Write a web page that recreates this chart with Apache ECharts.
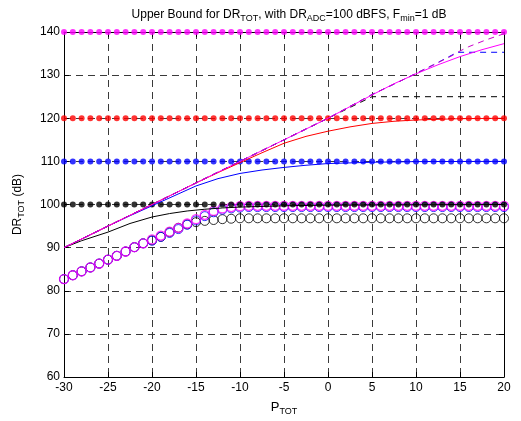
<!DOCTYPE html>
<html><head><meta charset="utf-8">
<script src="https://cdn.jsdelivr.net/npm/echarts@6/dist/echarts.min.js"></script>
<style>html,body{margin:0;padding:0;background:#fff}#c{width:521px;height:421px}</style>
</head><body><div id="c"></div>
<script>
// P_TOT sample grid for markers
const pTot = [-30,-29,-28,-27,-26,-25,-24,-23,-22,-21,-20,-19,-18,-17,-16,-15,-14,-13,-12,-11,-10,-9,-8,-7,-6,-5,-4,-3,-2,-1,0,1,2,3,4,5,6,7,8,9,10,11,12,13,14,15,16,17,18,19,20];
// constant dotted bounds
const levelMagenta = 140, levelRed = 120, levelBlue = 110, levelBlack = 100;
// circle series (one value per pTot)
const circMagenta = [82.7,83.6,84.5,85.4,86.3,87.2,88.1,89.1,90.1,91.0,91.9,92.8,93.7,94.6,95.6,96.6,97.6,98.5,99.1,99.4,99.6,99.7,99.7,99.7,99.7,99.7,99.7,99.7,99.7,99.7,99.7,99.7,99.7,99.7,99.7,99.7,99.7,99.7,99.7,99.7,99.7,99.7,99.7,99.7,99.7,99.7,99.7,99.7,99.7,99.7,99.7];
const circBlue = [82.7,83.6,84.5,85.4,86.3,87.2,88.1,89.1,90.1,91.0,91.6,92.5,93.4,94.3,95.3,96.3,97.3,98.2,98.8,99.1,99.3,99.4,99.4,99.4,99.4,99.4,99.4,99.4,99.4,99.4,99.4,99.4,99.4,99.4,99.4,99.4,99.4,99.4,99.4,99.4,99.4,99.4,99.4,99.4,99.4,99.4,99.4,99.4,99.4,99.4,99.4];
const circBlack = [82.7,83.6,84.5,85.4,86.3,87.2,88.1,89.1,90.1,91.0,91.7,92.5,93.6,94.6,95.4,95.9,96.2,96.4,96.6,96.7,96.8,96.8,96.8,96.8,96.8,96.8,96.8,96.8,96.8,96.8,96.8,96.8,96.8,96.8,96.8,96.8,96.8,96.8,96.8,96.8,96.8,96.8,96.8,96.8,96.8,96.8,96.8,96.8,96.8,96.8,96.8];
// solid curves [P_TOT, DR]
const curveMagenta = [[-30,90],[-27.5,92.5],[-25,95],[-22.5,97.5],[-20,100],[-17.5,102.5],[-15,105],[-12.5,107.5],[-10,110],[-7.5,112.5],[-5,115],[-2.5,117.5],[0,120],[2.5,122.7],[5,125.4],[7.5,128],[10,130.3],[12.5,132.4],[15,134.3],[17.5,135.9],[20,137.3]];
const curveRed = [[-30,90],[-25,95],[-20,100],[-15,105],[-12.5,107.4],[-10,109.7],[-7.5,112],[-5,114.2],[-2.5,115.8],[0,117],[2.5,118],[5,118.8],[7.5,119.3],[10,119.6],[15,119.9],[20,120]];
const curveBlue = [[-30,90],[-25,95],[-22.5,97.4],[-20,99.7],[-17.5,102],[-15,104.3],[-12.5,106],[-10,107.2],[-7.5,108],[-5,108.6],[-2.5,109.1],[0,109.5],[5,109.8],[10,109.95],[20,110]];
const curveBlack = [[-30,90],[-28,91.6],[-25,93.6],[-22.5,95.6],[-20,97.1],[-18,97.9],[-16,98.5],[-14,98.9],[-12,99.2],[-10,99.4],[-5,99.7],[0,99.85],[20,100]];
// dashed curves
const dashMagenta = [[-30,90],[-20,100],[-10,110],[0,120],[5,125.5],[8,128.4],[10,130.4],[12,132.4],[14,134.4],[15,135.6],[16,136.6],[18,138.2],[20,139.6]];
const dashBlue = [[-30,90],[-20,100],[-10,110],[0,120],[5,125.5],[8,128.4],[10,130.4],[12,132.4],[14.7,135.3],[20,135.3]];
const dashBlack = [[-30,90],[-20,100],[-10,110],[0,120],[5,125],[20,125]];
const xTicks = [-30,-25,-20,-15,-10,-5,0,5,10,15,20];
const yTicks = [60,70,80,90,100,110,120,130,140];

const FONT = 'Liberation Sans, Arial, sans-serif';
const pair = (vals) => pTot.map((x, i) => [x, vals[i]]);
const flat = (v) => pTot.map(x => [x, v]);

const chart = echarts.init(document.getElementById('c'), null, {renderer: 'canvas'});
const gridLine = {show: true, lineStyle: {color: '#3a3a3a', type: [7, 5], width: 1}};
const dotSeries = (v, c) => ({type: 'scatter', data: flat(v), symbol: 'circle', symbolSize: 6, itemStyle: {color: c}, z: 5, silent: true});
const circSeries = (vals, c, w) => ({type: 'scatter', data: pair(vals), symbol: 'circle', symbolSize: 9, itemStyle: {color: 'rgba(0,0,0,0)', borderColor: c, borderWidth: w}, z: 4, silent: true});
const lineSeries = (d, c, dash, z) => ({type: 'line', data: d, showSymbol: false, lineStyle: {color: c, width: 1, type: dash ? [6, 5] : 'solid'}, z: z, silent: true});

chart.setOption({
  animation: false,
  backgroundColor: '#fff',
  title: {
    text: 'Upper Bound for DR{s|TOT}, with DR{s|ADC}=100 dBFS, F{s|min}=1 dB',
    left: 284, top: 3, textAlign: 'center',
    textStyle: {fontFamily: FONT, fontSize: 12, fontWeight: 'normal', color: '#000', lineHeight: 14,
      rich: {s: {fontFamily: FONT, fontSize: 9, color: '#000', padding: [7, 0, 0, 0], lineHeight: 14}}}
  },
  grid: {left: 64, right: 17, top: 32, bottom: 44},
  xAxis: [{
    type: 'value', min: -30, max: 20, interval: 5,
    name: 'P{s|TOT}', nameLocation: 'middle', nameGap: 22,
    nameTextStyle: {fontFamily: FONT, fontSize: 13, color: '#000', rich: {s: {fontFamily: FONT, fontSize: 9, color: '#000', padding: [8, 0, 0, 0]}}},
    axisLine: {show: true, onZero: false, lineStyle: {color: '#000', width: 1}},
    axisTick: {show: true, inside: true, length: 5, lineStyle: {color: '#000'}},
    axisLabel: {color: '#000', fontFamily: FONT, fontSize: 12, margin: 5},
    splitLine: gridLine
  }, {
    type: 'value', min: -30, max: 20, interval: 5, position: 'top',
    axisLine: {show: true, onZero: false, lineStyle: {color: '#000', width: 1}},
    axisTick: {show: true, inside: true, length: 5, lineStyle: {color: '#000'}},
    axisLabel: {show: false}, splitLine: {show: false}
  }],
  yAxis: [{
    type: 'value', min: 60, max: 140, interval: 10,
    name: 'DR{s|TOT} (dB)', nameLocation: 'middle', nameGap: 38, nameRotate: 90,
    nameTextStyle: {fontFamily: FONT, fontSize: 12, color: '#000', rich: {s: {fontFamily: FONT, fontSize: 9, color: '#000', padding: [7, 0, 0, 0]}}},
    axisLine: {show: true, onZero: false, lineStyle: {color: '#000', width: 1}},
    axisTick: {show: true, inside: true, length: 5, lineStyle: {color: '#000'}},
    axisLabel: {color: '#000', fontFamily: FONT, fontSize: 12, margin: 4},
    splitLine: gridLine
  }, {
    type: 'value', min: 60, max: 140, interval: 10, position: 'right',
    axisLine: {show: true, onZero: false, lineStyle: {color: '#000', width: 1}},
    axisTick: {show: true, inside: true, length: 5, lineStyle: {color: '#000'}},
    axisLabel: {show: false}, splitLine: {show: false}
  }],
  series: [
    circSeries(circBlack, '#000', 1),
    circSeries(circBlue, '#0000ff', 1),
    circSeries(circMagenta, '#ff00ff', 1.3),
    dotSeries(levelBlack, '#000'),
    dotSeries(levelBlue, '#0000ff'),
    dotSeries(levelRed, '#ff0000'),
    lineSeries(dashBlack, '#000', true, 3),
    lineSeries(dashBlue, '#0000ff', true, 3),
    lineSeries(curveBlack, '#000', false, 6),
    lineSeries(curveBlue, '#0000ff', false, 6),
    lineSeries(curveRed, '#ff0000', false, 6),
    lineSeries(curveMagenta, '#ff00ff', false, 6),
    lineSeries(dashMagenta, '#cc00cc', true, 7),
    dotSeries(levelMagenta, '#ff00ff')
  ]
});
</script></body></html>
